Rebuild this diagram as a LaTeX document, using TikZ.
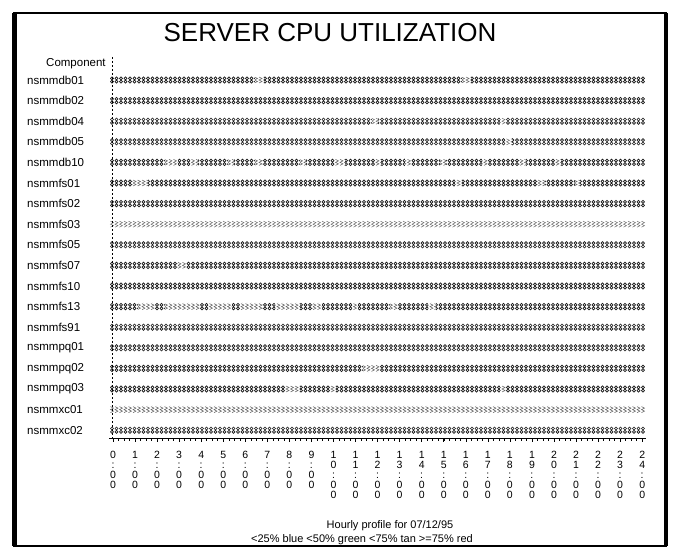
\documentclass[tikz,border=0pt]{standalone}
\usepackage{fontspec}
\setmainfont{Liberation Sans}
\begin{document}
\begin{tikzpicture}[x=1pt, y=-1pt,
            every node/.style = {inner sep=0pt},
            title/.style = {font=\fontsize{26}{30}\selectfont},
            comp/.style = {anchor=west, font=\fontsize{11.5}{13}\selectfont},
            hour/.style = {anchor=north, align=center, font=\fontsize{10.5}{10}\selectfont},
            note/.style = {font=\fontsize{11}{13}\selectfont},
            glyph/.style = {draw=black!90, line width=0.65pt},
            faint/.style = {draw=black!60, line width=0.5pt}]
    \useasboundingbox (0,0) rectangle (675,548);
    % frame
    \draw[line width=2pt] (14,13) rectangle (666,546);
    \draw[line width=4.5pt] (14.5,13) -- (14.5,546) (666,13) -- (666,546);

    \node[title] (title) at (330,33) {SERVER CPU UTILIZATION};
    \node[comp] (component) at (46,64) {Component};

    % one row per server: name / faint stretches of the bar
    \foreach \srv/\gaps [count=\r from 0] in {
            nsmmdb01/{255/264,462/471},
            nsmmdb02/{0/0},
            nsmmdb04/{372/378,500/506},
            nsmmdb05/{505/512},
            nsmmdb10/{165/178,190/198,228/234,255/262,300/306,335/345,375/381,405/411,440/446,482/488,520/526,555/561},
            nsmmfs01/{133/148,455/462,538/545,575/580},
            nsmmfs02/{0/0},
            nsmmfs03/{109/646},
            nsmmfs05/{0/0},
            nsmmfs07/{178/186},
            nsmmfs10/{0/0},
            nsmmfs13/{138/155,165/200,208/232,240/262,275/300,313/322,352/358,390/398,428/436},
            nsmmfs91/{0/0},
            nsmmpq01/{0/0},
            nsmmpq02/{363/380},
            nsmmpq03/{285/300,330/336,500/506},
            nsmmxc01/{109/646},
            nsmmxc02/{0/0}} {
        \pgfmathsetmacro\yy{80+\r*20.6}
        \node[comp] (\srv) at (27,\yy) {\srv};
        \draw[glyph] \foreach \g in {0,...,118} {
            (112+\g*4.5,\yy-1.7) circle[radius=1.5] (112+\g*4.5,\yy+1.7) circle[radius=1.5]};
        \foreach \a/\b in \gaps {
            \fill[white] (\a,\yy-4) rectangle (\b,\yy+4);
            \begin{scope}
                \clip (\a,\yy-4) rectangle (\b,\yy+4);
                \draw[faint] \foreach \g in {0,...,118} {
                    (110.5+\g*4.5,\yy-3) -- ++(3,1.5) -- ++(-3,1.5) -- ++(3,1.5) -- ++(-3,1.5)};
            \end{scope}
        }
    }

    % time axis
    \coordinate (top) at (112,57);
    \coordinate (orig) at (109,438);
    \coordinate (axisend) at (646,438);
    \draw[line width=0.5pt, dash pattern=on 2pt off 2pt] (top) -- (top |- orig);
    \draw[line width=0.8pt] (orig) -- (axisend);
    \foreach \t in {0,...,96}
        \draw[line width=0.5pt] (113+\t*5.5125,438) -- ++(0,2.5);
    \foreach \t in {0,...,24}
        \draw[line width=0.6pt] (113+\t*22.05,438) -- ++(0,4);
    \foreach \t [count=\h from 0] in {0,1,2,3,4,5,6,7,8,9,{1\\0},{1\\1},{1\\2},{1\\3},{1\\4},{1\\5},{1\\6},{1\\7},{1\\8},{1\\9},{2\\0},{2\\1},{2\\2},{2\\3},{2\\4}}
        \node[hour] (h\h) at (113+\h*22.05,451) {\t\\:\\0\\0};

    \node[note] (profile) at (390,526) {Hourly profile for 07/12/95};
    \node[note] (legend) at (362,540) {<25\% blue <50\% green <75\% tan >=75\% red};
\end{tikzpicture}
\end{document}
